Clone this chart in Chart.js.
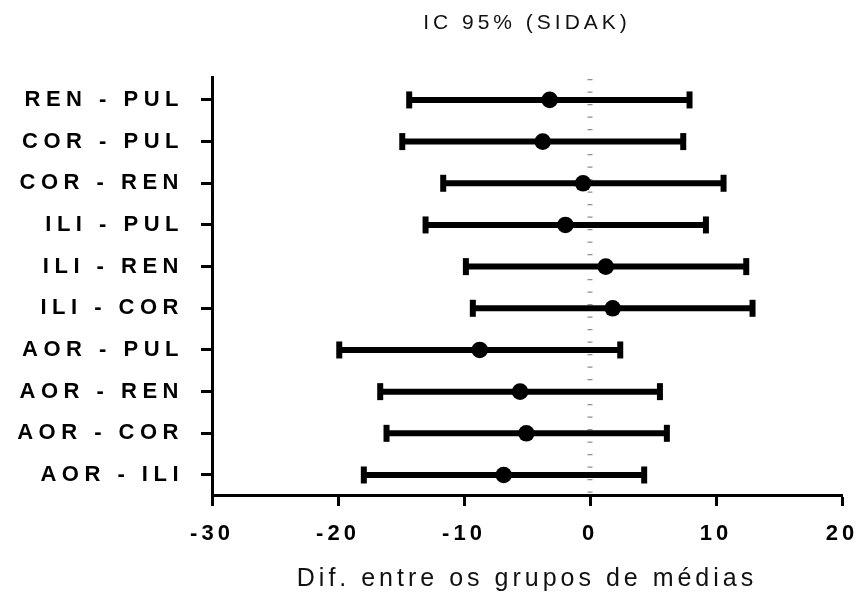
<!doctype html>
<html>

<head>
	<title>IC 95% (SIDAK)</title>
	<script src="https://cdn.jsdelivr.net/npm/chart.js@4/dist/chart.umd.min.js"></script>
	<style>
	html, body {
		margin: 0;
		padding: 0;
		background: #fff;
		overflow: hidden;
	}
	canvas {
		display: block;
	}
	</style>
</head>

<body>
	<canvas id="chart" width="860" height="594"></canvas>
	<script>
		// pairwise comparisons, top to bottom
		var comparisons = ['REN - PUL', 'COR - PUL', 'COR - REN', 'ILI - PUL', 'ILI - REN',
			'ILI - COR', 'AOR - PUL', 'AOR - REN', 'AOR - COR', 'AOR - ILI'];
		// mean difference and 95% CI bounds (Sidak)
		var meanDiff = [-3.2, -3.75, -0.55, -1.95, 1.25, 1.8, -8.75, -5.55, -5.05, -6.85];
		var lowerCI = [-14.35, -14.9, -11.65, -13.05, -9.85, -9.3, -19.9, -16.65, -16.15, -17.95];
		var upperCI = [7.9, 7.4, 10.6, 9.2, 12.4, 12.9, 2.4, 5.55, 6.1, 4.3];
		// x axis
		var xMin = -30;
		var xMax = 20;
		var xStep = 10;
		// y range around the rows
		var yTop = -0.55;
		var yBottom = 9.48;

		Chart.defaults.font.family = '"Liberation Sans", Arial, sans-serif';
		Chart.defaults.color = '#000';

		// canvas letter spacing: wide tracking on all the text
		var tracking = {
			id: 'tracking',
			beforeUpdate: function(chart) {
				chart.ctx.letterSpacing = '4px';
			},
			beforeDraw: function(chart) {
				chart.ctx.letterSpacing = '4px';
			},
			afterDatasetsDraw: function(chart) {
				// y labels are drawn after the datasets (ticks.z = 1)
				chart.ctx.letterSpacing = '5.5px';
			},
			afterDraw: function(chart) {
				chart.ctx.letterSpacing = '0px';
			}
		};

		var datasets = [];

		// dotted reference line at zero
		datasets.push({
			data: [{x: 0, y: yTop}, {x: 0, y: yBottom}],
			showLine: true,
			borderColor: '#8f8f8f',
			borderWidth: 5,
			borderDash: [1.2, 11.3],
			borderDashOffset: -2,
			pointRadius: 0,
			order: 3
		});

		// one whisker per comparison, capped at both ends
		comparisons.forEach(function(name, i) {
			datasets.push({
				label: name,
				data: [{x: lowerCI[i], y: i}, {x: upperCI[i], y: i}],
				showLine: true,
				borderColor: '#000',
				borderWidth: 6,
				pointStyle: 'line',
				rotation: 90,
				pointRadius: 8.5,
				pointBorderWidth: 6,
				pointBorderColor: '#000',
				order: 2
			});
		});

		// mean differences
		datasets.push({
			data: meanDiff.map(function(m, i) { return {x: m, y: i}; }),
			pointStyle: 'circle',
			pointRadius: 8.3,
			backgroundColor: '#000',
			borderWidth: 0,
			order: 1
		});

		new Chart(document.getElementById('chart').getContext('2d'), {
			type: 'scatter',
			data: {datasets: datasets},
			options: {
				responsive: false,
				animation: false,
				layout: {
					padding: {left: 0, right: 18, top: 0, bottom: 0}
				},
				plugins: {
					legend: {display: false},
					tooltip: {enabled: false},
					title: {
						display: true,
						fullSize: false,
						text: 'IC 95% (SIDAK)',
						color: '#111',
						font: {size: 21, weight: 'normal', lineHeight: 1.2},
						padding: {top: 11, bottom: 40.8}
					}
				},
				scales: {
					x: {
						type: 'linear',
						min: xMin,
						max: xMax,
						ticks: {
							stepSize: xStep,
							color: '#000',
							font: {size: 22, weight: 'bold'},
							padding: 15
						},
						grid: {
							drawOnChartArea: false,
							drawTicks: true,
							tickLength: 11,
							tickWidth: 3,
							tickColor: '#000'
						},
						border: {display: true, color: '#000', width: 3},
						title: {
							display: true,
							text: 'Dif. entre os grupos de médias',
							color: '#111',
							font: {size: 25, weight: 'normal', lineHeight: 1.2},
							padding: {top: 0, bottom: 0}
						},
						afterFit: function(scale) {
							scale.height = 99;
							scale.paddingLeft = 0;
							scale.paddingRight = 0;
						}
					},
					y: {
						type: 'linear',
						reverse: true,
						min: yTop,
						max: yBottom,
						afterBuildTicks: function(scale) {
							scale.ticks = comparisons.map(function(_, i) { return {value: i}; });
						},
						ticks: {
							autoSkip: false,
							color: '#000',
							font: {size: 22, weight: 'bold'},
							padding: 17,
							z: 1,
							callback: function(value, index) {
								return comparisons[index];
							}
						},
						grid: {
							drawOnChartArea: false,
							drawTicks: true,
							tickLength: 11,
							tickWidth: 3,
							tickColor: '#000'
						},
						border: {display: true, color: '#000', width: 3},
						afterFit: function(scale) {
							scale.width = 212;
							scale.paddingTop = 0;
							scale.paddingBottom = 0;
						}
					}
				}
			},
			plugins: [tracking]
		});
	</script>
</body>

</html>
